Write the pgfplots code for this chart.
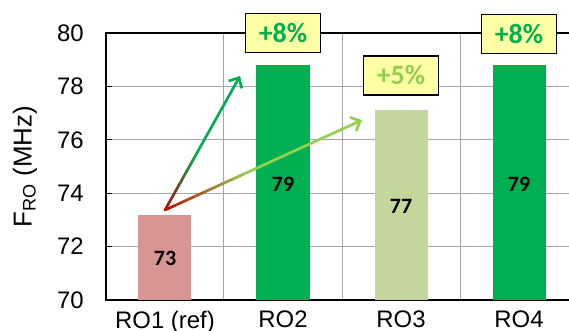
\documentclass[border=0pt]{standalone}
\usepackage{pgfplots}
\pgfplotsset{compat=1.18}
\usepackage{fontspec}
\setmainfont{Liberation Sans}
\newfontfamily\calib{Carlito}
\usetikzlibrary{calc,arrows.meta}

\definecolor{darkred}{HTML}{C00000}
\definecolor{exgreen}{HTML}{00B050}
\definecolor{ltgreen}{HTML}{92D050}
\definecolor{rosebar}{HTML}{D99594}
\definecolor{olivebar}{HTML}{C3D69B}
\definecolor{boxyellow}{HTML}{FFFFA6}
\definecolor{gridgray}{HTML}{A6A6A6}

\begin{document}
\begin{tikzpicture}
\begin{axis}[
    scale only axis,
    width=472bp, height=267bp,
    xmin=-0.5, xmax=3.5,
    ymin=70, ymax=80,
    ytick={70,72,...,80},
    xtick={0,1,2,3},
    xticklabels={RO1 (ref),RO2,RO3,RO4},
    minor xtick={0.5,1.5,2.5},
    xminorgrids, ymajorgrids,
    grid style={draw=gridgray, line width=1bp},
    axis line style={line width=2bp},
    x tick style={draw=none},
    ytick pos=left,
    tick align=inside,
    major tick length=6bp,
    y tick style={black, line width=1bp},
    ticklabel style={font=\fontsize{24}{28}\selectfont},
    /pgf/number format/assume math mode=true,
    yticklabel style={inner sep=0pt, anchor=east, xshift=-22bp},
    xticklabel style={inner sep=0pt, anchor=north, yshift=-11bp},
    ylabel={F\textsubscript{RO} (MHz)},
    ylabel style={font=\fontsize{26}{30}\selectfont, at={(axis description cs:-0.172,0.5)}, anchor=center},
    clip=false,
]
\addplot[ybar, bar width=53bp, bar shift=0pt, fill=rosebar, draw=none] coordinates {(0,73.2)};
\addplot[ybar, bar width=53bp, bar shift=0pt, fill=exgreen, draw=none] coordinates {(1,78.8)};
\addplot[ybar, bar width=53bp, bar shift=0pt, fill=olivebar, draw=none] coordinates {(2,77.1)};
\addplot[ybar, bar width=53bp, bar shift=0pt, fill=exgreen, draw=none] coordinates {(3,78.8)};

% value labels in the middle of the bars
\addplot[draw=none, mark=none, nodes near coords, point meta=explicit symbolic,
    every node near coord/.style={anchor=center, font=\calib\bfseries\fontsize{22}{26}\selectfont, text=black}]
    coordinates {(0,71.57)[73] (1,74.35)[79] (2,73.5)[77] (3,74.35)[79]};

% percentage boxes
\addplot[draw=none, mark=none, nodes near coords, point meta=explicit symbolic,
    every node near coord/.style={anchor=center, draw=black, line width=1.2bp, fill=boxyellow,
        minimum width=75bp, minimum height=39bp, inner sep=0pt,
        font=\calib\bfseries\fontsize{28}{31}\selectfont, text=exgreen}]
    coordinates {(1,80.0)[+8\%] (3,79.96)[+8\%]};
\addplot[draw=none, mark=none, nodes near coords, point meta=explicit symbolic,
    every node near coord/.style={anchor=center, draw=black, line width=1.2bp, fill=boxyellow,
        minimum width=75bp, minimum height=39bp, inner sep=0pt,
        font=\calib\bfseries\fontsize{28}{31}\selectfont, text=ltgreen}]
    coordinates {(2,78.41)[+5\%]};

\coordinate (o) at (rel axis cs:0,0);
\coordinate (s) at (axis cs:0,73.37);
\coordinate (ea) at (axis cs:0.636,78.39);
\coordinate (eb) at (axis cs:1.67,76.74);
\end{axis}

% gradient arrows (red -> green)
\foreach \i in {0,...,9}{
  \pgfmathsetmacro\ta{\i/20}
  \pgfmathsetmacro\tb{(\i+1)/20}
  \pgfmathtruncatemacro\m{min(100,(\i+1)*11)}
  \draw[line width=2.7bp, line cap=round, color=exgreen!\m!darkred] ($(s)!\ta!(ea)$) -- ($(s)!\tb!(ea)$);
  \draw[line width=2.7bp, line cap=round, color=ltgreen!\m!darkred] ($(s)!\ta!(eb)$) -- ($(s)!\tb!(eb)$);
}
\draw[line width=2.7bp, line cap=round, exgreen, -{Straight Barb[length=8bp, width=15bp]}] ($(s)!0.5!(ea)$) -- (ea);
\draw[line width=2.7bp, line cap=round, ltgreen, -{Straight Barb[length=8bp, width=15bp]}] ($(s)!0.5!(eb)$) -- (eb);

\pgfresetboundingbox
\path[use as bounding box] ($(o)+(-106bp,-31bp)$) rectangle ($(o)+(463bp,300bp)$);
\end{tikzpicture}
\end{document}
